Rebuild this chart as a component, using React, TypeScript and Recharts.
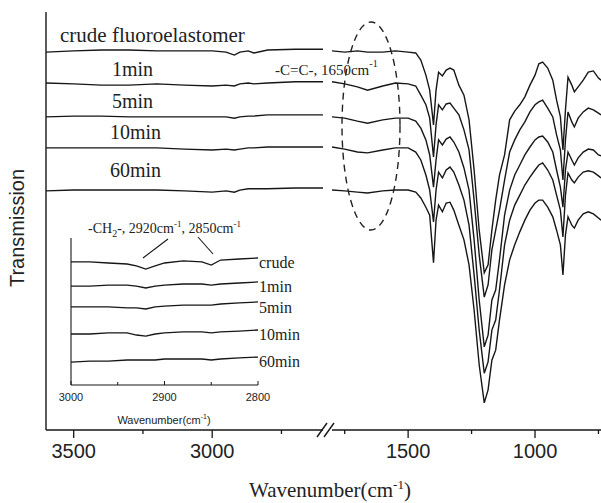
import React from "react";
import { LineChart, Line, XAxis, YAxis } from "recharts";

// wavenumbers (cm-1) of the left part of the broken axis
const leftWn = [3600, 3500, 3400, 3300, 3200, 3100, 3000, 2950, 2920, 2900, 2870, 2850, 2800, 2700, 2600];
const leftCrude = [90.4, 90.7, 90.9, 90.9, 90.7, 90.7, 90.7, 90.4, 89.7, 90.4, 90.7, 90.2, 90.9, 91.1, 91.1];
const left1 = [83.0, 82.8, 82.5, 82.5, 82.8, 82.5, 82.3, 82.5, 82.3, 82.8, 83.0, 82.8, 83.0, 83.3, 83.3];
const left5 = [74.9, 75.1, 75.1, 74.9, 74.9, 74.9, 74.9, 74.9, 74.6, 74.9, 75.1, 75.1, 75.4, 75.4, 75.4];
const left10 = [67.5, 67.5, 67.5, 67.5, 67.5, 67.2, 67.0, 67.2, 67.0, 67.2, 67.5, 67.5, 67.7, 67.7, 67.7];
const left60 = [57.2, 57.4, 57.4, 57.4, 57.4, 57.2, 56.9, 57.2, 56.9, 57.4, 57.7, 57.7, 57.7, 57.9, 57.9];

// right part of the broken axis
const rightWn = [1800, 1750, 1700, 1660, 1600, 1550, 1500, 1470, 1450, 1430, 1415, 1400, 1390, 1380, 1365, 1350, 1335,
  1320, 1300, 1280, 1260, 1240, 1220, 1200, 1185, 1170, 1155, 1140, 1120, 1100, 1080, 1060, 1040, 1020, 1000, 985, 970,
  950, 930, 915, 900, 890, 880, 870, 855, 845, 830, 810, 790, 770, 750, 740];
const rightCrude = [90.7, 90.4, 90.7, 90.4, 90.4, 90.7, 90.4, 90.2, 88.5, 84.9, 81.3, 73.0, 81.3, 85.6, 84.7, 86.1, 86.6,
  86.1, 82.5, 80.1, 74.2, 62.2, 47.8, 37.6, 39.5, 47.8, 55.0, 61.0, 65.8, 74.2, 76.3, 77.8, 79.7, 82.5, 84.9, 87.6, 88.0,
  86.6, 83.7, 78.9, 74.9, 67.0, 76.6, 84.4, 82.5, 80.9, 82.1, 83.7, 85.6, 85.9, 84.2, 83.7];
const right1 = [83.3, 82.8, 82.1, 81.3, 82.3, 83.0, 82.8, 82.3, 80.1, 77.8, 74.6, 65.3, 73.0, 77.8, 76.6, 78.0, 78.2,
  77.0, 75.4, 71.8, 67.0, 55.0, 41.9, 31.8, 34.7, 43.1, 47.8, 52.6, 59.8, 66.5, 69.4, 71.8, 73.7, 76.1, 77.8, 78.5, 78.9,
  77.0, 74.9, 70.6, 67.0, 59.8, 69.4, 76.1, 73.7, 72.5, 74.6, 76.1, 77.0, 76.6, 75.8, 75.4];
const right5 = [74.9, 74.6, 73.9, 73.4, 74.2, 74.6, 74.6, 73.9, 72.2, 69.4, 65.8, 58.1, 64.6, 69.4, 68.2, 69.6, 70.1,
  68.9, 66.5, 62.7, 57.4, 45.5, 31.1, 19.9, 22.7, 31.1, 33.5, 40.7, 51.4, 57.4, 61.0, 63.4, 65.8, 67.7, 69.4, 70.1, 70.3,
  68.9, 66.5, 62.2, 58.1, 53.3, 62.2, 66.5, 64.6, 63.4, 65.1, 66.5, 67.2, 67.0, 65.8, 65.6];
const right10 = [67.7, 67.2, 66.5, 66.3, 67.0, 67.5, 67.5, 66.5, 64.6, 61.0, 57.4, 49.8, 57.4, 61.7, 60.3, 62.2, 62.9,
  61.7, 58.6, 55.0, 49.0, 37.1, 23.9, 13.6, 16.3, 23.9, 26.3, 33.5, 44.3, 50.2, 53.8, 56.2, 58.6, 60.5, 62.2, 63.4, 63.9,
  62.2, 59.8, 56.2, 52.6, 46.2, 56.2, 61.5, 59.8, 59.1, 60.5, 61.7, 62.0, 61.7, 60.8, 60.3];
const right60 = [57.4, 57.2, 56.9, 56.7, 57.2, 57.4, 57.4, 56.9, 55.5, 53.3, 51.4, 40.0, 50.2, 53.8, 52.2, 54.3, 54.5,
  52.6, 49.0, 45.5, 39.5, 28.7, 15.6, 6.5, 9.6, 16.7, 19.1, 26.3, 34.7, 40.7, 44.3, 47.4, 50.2, 52.6, 54.3, 55.0, 55.0,
  53.3, 51.0, 47.8, 44.3, 37.1, 46.7, 51.0, 49.0, 48.3, 50.2, 51.7, 52.2, 51.7, 50.7, 50.2];

// inset, 3000-2800 cm-1
const insetWn = [3000, 2980, 2960, 2940, 2930, 2920, 2910, 2900, 2880, 2860, 2850, 2840, 2820, 2800];
const insetCrude = [83.7, 83.7, 83.0, 82.3, 81.0, 78.9, 81.0, 83.0, 84.4, 83.7, 81.6, 85.0, 85.7, 86.4];
const inset1 = [67.3, 67.3, 68.0, 68.0, 67.3, 66.0, 67.3, 68.0, 68.7, 68.7, 68.0, 68.7, 69.4, 70.1];
const inset5 = [53.1, 53.1, 53.1, 52.4, 52.4, 51.7, 53.1, 53.7, 54.4, 54.4, 54.4, 55.1, 55.8, 56.5];
const inset10 = [34.7, 34.7, 35.4, 35.4, 34.0, 33.3, 34.7, 35.4, 36.1, 36.1, 35.4, 36.1, 36.7, 37.4];
const inset60 = [15.6, 16.3, 16.3, 17.0, 17.0, 17.0, 17.0, 17.7, 17.7, 17.7, 17.0, 17.7, 18.4, 19.0];

const seriesKeys = ["crude", "m1", "m5", "m10", "m60"];
const insetNames = ["crude", "1min", "5min", "10min", "60min"];

const leftTicks = [3500, 3250, 3000, 2750];
const leftMajor = [3500, 3000];
const rightTicks = [1750, 1500, 1250, 1000, 750];
const rightMajor = [1500, 1000];
const insetTicks = [3000, 2950, 2900, 2850, 2800];
const insetMajor = [3000, 2900, 2800];

const buildRows = (wn: number[], cols: number[][]) =>
  wn.map((w, i) => {
    const row: any = { wn: w };
    seriesKeys.forEach((k, j) => (row[k] = cols[j][i]));
    return row;
  });

const leftRows = buildRows(leftWn, [leftCrude, left1, left5, left10, left60]);
const rightRows = buildRows(rightWn, [rightCrude, right1, right5, right10, right60]);
const insetRows = buildRows(insetWn, [insetCrude, inset1, inset5, inset10, inset60]);

const SERIF = "'Liberation Serif', 'Times New Roman', serif";
const SANS = "'Liberation Sans', Arial, sans-serif";
const INK = "#161616";

const mainTick = (majors: number[]) => (props: any) => {
  const { x, y, payload } = props;
  const major = majors.includes(payload.value);
  return (
    <g>
      <line x1={x} x2={x} y1={y} y2={y + (major ? 8 : 4)} stroke={INK} strokeWidth={1.3} />
      {major && (
        <text x={x} y={y + 28} textAnchor="middle" fontFamily={SANS} fontSize={20} fill="#222">
          {payload.value}
        </text>
      )}
    </g>
  );
};

const insetTick = (props: any) => {
  const { x, y, payload } = props;
  const major = insetMajor.includes(payload.value);
  return (
    <g>
      <line x1={x} x2={x} y1={y} y2={y - (major ? 4 : 3)} stroke={INK} strokeWidth={1} />
      {major && (
        <text x={x} y={y + 16} textAnchor="middle" fontFamily={SANS} fontSize={11} fill="#222">
          {payload.value}
        </text>
      )}
    </g>
  );
};

const lines = (width: number) =>
  seriesKeys.map((k) => (
    <Line key={k} type="linear" dataKey={k} stroke={INK} strokeWidth={width} dot={false} isAnimationActive={false} />
  ));

export default function App() {
  return (
    <div style={{ position: "absolute", left: 0, top: 0, width: 601, height: 503, background: "#fff" }}>
      <div style={{ position: "absolute", left: 0, top: 0 }}>
        <LineChart width={335} height={503} data={leftRows} margin={{ top: 12, right: 12, left: 0, bottom: 0 }}>
          <XAxis
            type="number"
            dataKey="wn"
            domain={[2600, 3600]}
            reversed
            allowDataOverflow
            ticks={leftTicks}
            interval={0}
            tickSize={0}
            tickMargin={0}
            tickLine={false}
            tick={mainTick(leftMajor)}
            height={73}
            stroke={INK}
            strokeWidth={1.4}
          />
          <YAxis type="number" domain={[0, 100]} width={46} tick={false} tickLine={false} stroke={INK} strokeWidth={1.4} />
          {lines(1.4)}
        </LineChart>
      </div>
      <div style={{ position: "absolute", left: 325, top: 0 }}>
        <LineChart width={276} height={503} data={rightRows} margin={{ top: 12, right: 0, left: 7, bottom: 0 }}>
          <XAxis
            type="number"
            dataKey="wn"
            domain={[740, 1800]}
            reversed
            allowDataOverflow
            ticks={rightTicks}
            interval={0}
            tickSize={0}
            tickMargin={0}
            tickLine={false}
            tick={mainTick(rightMajor)}
            height={73}
            stroke={INK}
            strokeWidth={1.4}
          />
          <YAxis type="number" domain={[0, 100]} hide />
          {lines(1.4)}
        </LineChart>
      </div>
      <div style={{ position: "absolute", left: 40, top: 225 }}>
        <LineChart width={240} height={210} data={insetRows} margin={{ top: 13, right: 22, left: 0, bottom: 0 }}>
          <XAxis
            type="number"
            dataKey="wn"
            domain={[2800, 3000]}
            reversed
            allowDataOverflow
            ticks={insetTicks}
            interval={0}
            tickSize={0}
            tickMargin={0}
            tickLine={false}
            tick={insetTick}
            height={50}
            stroke={INK}
            strokeWidth={1.1}
          />
          <YAxis type="number" domain={[0, 100]} width={31} tick={false} tickLine={false} stroke={INK} strokeWidth={1.1} />
          {lines(1.3)}
        </LineChart>
      </div>
      <svg width={601} height={503} style={{ position: "absolute", left: 0, top: 0, pointerEvents: "none" }}>
        {/* axis titles */}
        <text x={17} y={228} transform="rotate(-90 17 228)" textAnchor="middle" dominantBaseline="central" fontFamily={SANS} fontSize={20} fill="#222">
          Transmission
        </text>
        <text x={330} y={497} textAnchor="middle" fontFamily={SERIF} fontSize={21} fill="#222">
          Wavenumber(cm<tspan dy={-8} fontSize={13}>-1</tspan><tspan dy={8}>)</tspan>
        </text>
        {/* series labels */}
        <text x={60} y={42} fontFamily={SERIF} fontSize={21} fill="#222">crude fluoroelastomer</text>
        <text x={112} y={76} fontFamily={SERIF} fontSize={20} fill="#222">1min</text>
        <text x={112} y={108} fontFamily={SERIF} fontSize={20} fill="#222">5min</text>
        <text x={110} y={139} fontFamily={SERIF} fontSize={20} fill="#222">10min</text>
        <text x={110} y={177} fontFamily={SERIF} fontSize={20} fill="#222">60min</text>
        <text x={275} y={75} fontFamily={SERIF} fontSize={15} fill="#222">
          -C=C-, 1650cm<tspan dy={-8} fontSize={10}>-1</tspan>
        </text>
        <ellipse cx={371} cy={126} rx={29} ry={104} fill="none" stroke="#222" strokeWidth={1.4} strokeDasharray="7 5" />
        {/* axis break */}
        <line x1={317} y1={437} x2={327} y2={423} stroke={INK} strokeWidth={1.4} />
        <line x1={324} y1={437} x2={334} y2={423} stroke={INK} strokeWidth={1.4} />
        {/* inset annotations */}
        <text x={88} y={233} fontFamily={SERIF} fontSize={14} fill="#222">
          -CH<tspan dy={4} fontSize={10}>2</tspan><tspan dy={-4}>-, 2920cm</tspan><tspan dy={-6} fontSize={9}>-1</tspan>
          <tspan dy={6}>, 2850cm</tspan><tspan dy={-6} fontSize={9}>-1</tspan>
        </text>
        <line x1={143} y1={258} x2={168} y2={239} stroke={INK} strokeWidth={1.1} />
        <line x1={198} y1={237} x2={213} y2={254} stroke={INK} strokeWidth={1.1} />
        {insetNames.map((n, i) => (
          <text key={n} x={259} y={[262, 286, 307, 334, 361][i]} dominantBaseline="central" fontFamily={SERIF} fontSize={16} fill="#222">
            {n}
          </text>
        ))}
        <text x={164} y={424} textAnchor="middle" fontFamily={SANS} fontSize={11} fill="#222">
          Wavenumber(cm<tspan dy={-5} fontSize={7}>-1</tspan><tspan dy={5}>)</tspan>
        </text>
      </svg>
    </div>
  );
}
